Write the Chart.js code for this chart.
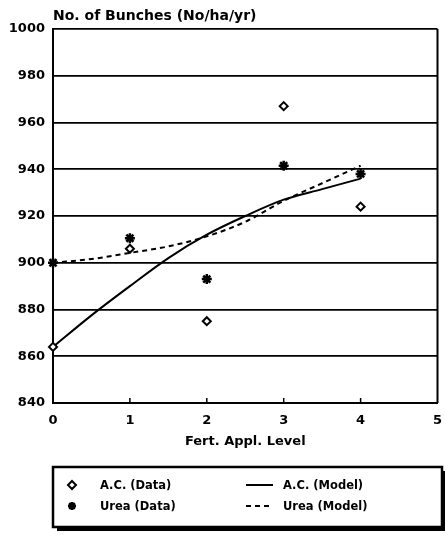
<!DOCTYPE html>
<html>
<head>
<meta charset="utf-8">
<script src="https://cdn.jsdelivr.net/npm/chart.js@4.4.1/dist/chart.umd.min.js"></script>
<style>
  html, body { margin: 0; padding: 0; background: #fff; overflow: hidden; }
  canvas { display: block; }
</style>
</head>
<body>
<canvas id="bunches" width="445" height="536"></canvas>
<script>
// values
const levels = [0, 1, 2, 3, 4];
const acData = [864, 906, 875, 967, 924];
const ureaData = [900, 910.5, 893, 941.5, 938];

const modelLevels = [0, 0.5, 1, 1.5, 2, 2.5, 3, 3.5, 4];
const acModel = [864, 877.5, 890, 902, 912, 920, 927, 931.5, 936];
const ureaModel = [900, 901.6, 904.2, 907, 911.3, 917.5, 926.5, 934, 941.5];

const yTicks = [840, 860, 880, 900, 920, 940, 960, 980, 1000];
const xTicks = [0, 1, 2, 3, 4, 5];

const FONT = 'DejaVu Sans';

const toPts = (xs, ys) => xs.map((x, i) => ({ x: x, y: ys[i] }));

// title above the plot, inward x ticks, right frame, boxed legend
const extras = {
    id: 'extras',
    afterDraw(chart) {
        const ctx = chart.ctx;
        const a = chart.chartArea;
        const xs = chart.scales.x;
        ctx.save();

        ctx.fillStyle = '#000';
        ctx.font = 'bold 14px "' + FONT + '"';
        ctx.textBaseline = 'alphabetic';
        ctx.textAlign = 'left';
        ctx.fillText('No. of Bunches (No/ha/yr)', a.left, 20);

        ctx.strokeStyle = '#000';
        ctx.lineWidth = 2;
        ctx.beginPath();
        ctx.moveTo(a.right, a.top);
        ctx.lineTo(a.right, a.bottom);
        ctx.stroke();

        ctx.lineWidth = 1.5;
        xTicks.slice(1, -1).forEach(v => {
            const px = xs.getPixelForValue(v);
            ctx.beginPath();
            ctx.moveTo(px, a.bottom);
            ctx.lineTo(px, a.bottom - 5);
            ctx.stroke();
        });

        // legend box
        const bx = a.left, by = 467, bw = 389, bh = 60;
        ctx.fillStyle = '#000';
        ctx.fillRect(bx + 4, by + 4, bw, bh);
        ctx.fillStyle = '#fff';
        ctx.fillRect(bx, by, bw, bh);
        ctx.lineWidth = 2.5;
        ctx.strokeRect(bx, by, bw, bh);

        const ds = chart.data.datasets;
        const rows = [485, 506];
        ctx.font = 'bold 11.5px "' + FONT + '"';
        ctx.textBaseline = 'middle';
        ctx.fillStyle = '#000';
        [0, 1].forEach(i => {
            const d = ds[i];
            drawMarker(ctx, d.pointStyle, 72, rows[i], 4, d.pointBorderWidth);
            ctx.fillText(d.label, 100, rows[i] + 1);
        });
        [2, 3].forEach((i, r) => {
            const d = ds[i];
            ctx.setLineDash(d.borderDash || []);
            ctx.lineWidth = d.borderWidth;
            ctx.beginPath();
            ctx.moveTo(246, rows[r]);
            ctx.lineTo(273, rows[r]);
            ctx.stroke();
            ctx.setLineDash([]);
            ctx.fillText(d.label, 283, rows[r] + 1);
        });
        ctx.restore();
    }
};

function drawMarker(ctx, style, x, y, r, w) {
    ctx.save();
    ctx.strokeStyle = '#000';
    ctx.fillStyle = '#fff';
    ctx.lineWidth = w;
    ctx.beginPath();
    if (style === 'rectRot') {
        ctx.moveTo(x, y - r);
        ctx.lineTo(x + r, y);
        ctx.lineTo(x, y + r);
        ctx.lineTo(x - r, y);
        ctx.closePath();
        ctx.fill();
        ctx.stroke();
    } else {
        for (let k = 0; k < 4; k++) {
            const t = k * Math.PI / 4;
            ctx.moveTo(x - r * Math.cos(t), y - r * Math.sin(t));
            ctx.lineTo(x + r * Math.cos(t), y + r * Math.sin(t));
        }
        ctx.stroke();
    }
    ctx.restore();
}

new Chart(
    document.getElementById('bunches'),
    {
        type: 'scatter',
        data: {
            datasets: [
                {
                    label: 'A.C. (Data)',
                    data: toPts(levels, acData),
                    pointStyle: 'rectRot',
                    pointRadius: 4,
                    pointBorderWidth: 2,
                    pointBackgroundColor: '#fff',
                    pointBorderColor: '#000',
                    showLine: false,
                    clip: false,
                    order: 0
                },
                {
                    label: 'Urea (Data)',
                    data: toPts(levels, ureaData),
                    pointStyle: 'star',
                    pointRadius: 5,
                    pointBorderWidth: 2.5,
                    pointBackgroundColor: '#000',
                    pointBorderColor: '#000',
                    showLine: false,
                    clip: false,
                    order: 1
                },
                {
                    label: 'A.C. (Model)',
                    data: toPts(modelLevels, acModel),
                    showLine: true,
                    borderColor: '#000',
                    borderWidth: 2,
                    pointRadius: 0,
                    cubicInterpolationMode: 'monotone',
                    order: 2
                },
                {
                    label: 'Urea (Model)',
                    data: toPts(modelLevels, ureaModel),
                    showLine: true,
                    borderColor: '#000',
                    borderWidth: 2,
                    borderDash: [5, 4],
                    pointRadius: 0,
                    cubicInterpolationMode: 'monotone',
                    order: 3
                }
            ]
        },
        options: {
            responsive: false,
            animation: false,
            layout: { padding: { left: 0, top: 29, right: 7, bottom: 87 } },
            plugins: {
                legend: { display: false },
                tooltip: { enabled: false }
            },
            scales: {
                x: {
                    type: 'linear',
                    min: 0,
                    max: 5,
                    afterBuildTicks: s => { s.ticks = xTicks.map(v => ({ value: v })); },
                    afterFit: s => { s.height = 46; s.paddingRight = 0; s.paddingLeft = 0; },
                    grid: { display: false, drawTicks: false },
                    border: { display: true, color: '#000', width: 2 },
                    ticks: {
                        color: '#000',
                        padding: 10,
                        maxRotation: 0,
                        font: { family: FONT, size: 13, weight: 'bold' }
                    },
                    title: {
                        display: true,
                        text: 'Fert. Appl. Level',
                        color: '#000',
                        padding: { top: 0, bottom: 0 },
                        font: { family: FONT, size: 13, weight: 'bold' }
                    }
                },
                y: {
                    type: 'linear',
                    min: 840,
                    max: 1000,
                    afterBuildTicks: s => { s.ticks = yTicks.map(v => ({ value: v })); },
                    afterFit: s => { s.width = 53; },
                    grid: { color: '#000', lineWidth: 1.8, drawTicks: false },
                    border: { display: true, color: '#000', width: 2 },
                    ticks: {
                        color: '#000',
                        padding: 8,
                        callback: v => String(v),
                        font: { family: FONT, size: 13, weight: 'bold' }
                    }
                }
            }
        },
        plugins: [extras]
    }
);
</script>
</body>
</html>
